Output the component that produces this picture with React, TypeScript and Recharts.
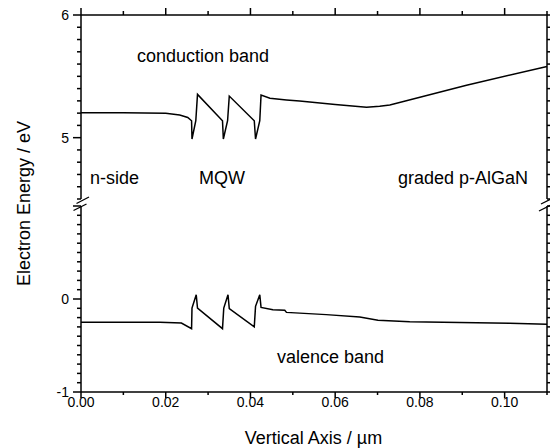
import React from 'react';
import { LineChart, Line, XAxis, YAxis } from 'recharts';

// conduction band (upper panel)
const condPos = [0, 0.01, 0.02, 0.0233, 0.0252, 0.0261, 0.0262, 0.0271, 0.0275, 0.0334, 0.0336, 0.0346, 0.035, 0.0409, 0.0412, 0.0422, 0.0425, 0.0446, 0.0485, 0.0516, 0.06, 0.0674, 0.0705, 0.0729, 0.091, 0.11];
const condEnergy = [5.203, 5.203, 5.199, 5.185, 5.165, 5.138, 4.989, 5.138, 5.353, 5.138, 4.989, 5.138, 5.339, 5.138, 4.989, 5.138, 5.347, 5.322, 5.308, 5.298, 5.271, 5.247, 5.256, 5.266, 5.428, 5.58];

// valence band (lower panel)
const valPos = [0, 0.0186, 0.0237, 0.0261, 0.0262, 0.0272, 0.0275, 0.0334, 0.0337, 0.0347, 0.035, 0.0409, 0.0412, 0.0422, 0.0425, 0.0453, 0.0481, 0.0485, 0.0579, 0.0658, 0.0701, 0.0776, 0.0894, 0.1012, 0.11];
const valEnergy = [-0.251, -0.251, -0.258, -0.319, -0.097, 0.046, -0.097, -0.319, -0.097, 0.046, -0.104, -0.3, -0.079, 0.046, -0.09, -0.115, -0.122, -0.144, -0.168, -0.193, -0.229, -0.244, -0.254, -0.262, -0.272];

const xTicks = [0, 0.01, 0.02, 0.03, 0.04, 0.05, 0.06, 0.07, 0.08, 0.09, 0.1, 0.11];
const upperTicks = [4.5, 4.6, 4.7, 4.8, 4.9, 5, 5.1, 5.2, 5.3, 5.4, 5.5, 5.6, 5.7, 5.8, 5.9, 6];
const lowerTicks = [-1, -0.9, -0.8, -0.7, -0.6, -0.5, -0.4, -0.3, -0.2, -0.1, 0, 0.1, 0.2, 0.3, 0.4, 0.5, 0.6, 0.7, 0.8, 0.9, 1];
const upperLabels = [5, 6];
const lowerLabels = [-1, 0];

const condData = condPos.map((x, i) => ({ x, e: condEnergy[i] }));
const valData = valPos.map((x, i) => ({ x, e: valEnergy[i] }));

const FONT = '"Liberation Sans", Arial, sans-serif';
const INK = '#000';

const isMajorX = (v: number) => Math.round(v * 100) % 2 === 0;

// the axis' own tick line gives the 4px minor mark; majors get 4px more
const LeftTick = (props: any) => {
  const x = Number(props.x);
  const y = Number(props.y);
  const v = props.payload.value;
  const major = Number.isInteger(v);
  return (
    <g>
      {major && <line x1={x} x2={x - 4} y1={y} y2={y} stroke={INK} strokeWidth={1.5} />}
      {props.labels.includes(v) && (
        <text x={x - 8} y={y + 5} textAnchor="end" fontSize={14} fontFamily={FONT} fill={INK} stroke="none">
          {v}
        </text>
      )}
    </g>
  );
};

const EmptyTick = () => <g />;

const TopTick = (props: any) => {
  const x = Number(props.x);
  const y = Number(props.y);
  const len = isMajorX(props.payload.value) ? 7 : 4;
  return <path d={`M${x},${y}V${y - len}`} stroke={INK} strokeWidth={1.5} fill="none" />;
};

const BottomTick = (props: any) => {
  const x = Number(props.x);
  const y = Number(props.y);
  const v = props.payload.value;
  const major = isMajorX(v);
  return (
    <g>
      <path d={`M${x},${y}V${y + (major ? 6 : 3)}`} stroke={INK} strokeWidth={1.5} fill="none" />
      {major && (
        <text x={x} y={y + 15} textAnchor="middle" fontSize={14} fontFamily={FONT} fill={INK} stroke="none">
          {v.toFixed(2)}
        </text>
      )}
    </g>
  );
};

const axisLine = { stroke: INK, strokeWidth: 1.5 };
const yTickLine = { stroke: INK, strokeWidth: 1.5 };

export default function App() {
  return (
    <div style={{ position: 'absolute', left: 0, top: 0, width: 550, height: 448, background: '#fff', overflow: 'hidden' }}>
      <div style={{ position: 'absolute', left: 0, top: 0 }}>
        <LineChart width={550} height={205} data={condData} margin={{ top: 0, right: 0, bottom: 6, left: 0 }}>
          <XAxis xAxisId="t" orientation="top" type="number" dataKey="x" domain={[0, 0.11]} ticks={xTicks} interval={0}
            height={15} tickSize={0} tickMargin={0} axisLine={axisLine} tick={<TopTick />} />
          <YAxis yAxisId="l" type="number" domain={[4.5, 6]} ticks={upperTicks} interval={0} width={81}
            tickSize={4} tickMargin={0} axisLine={axisLine} tickLine={yTickLine} tick={<LeftTick labels={upperLabels} />} />
          <YAxis yAxisId="r" orientation="right" type="number" domain={[4.5, 6]} ticks={upperTicks} interval={0} width={3}
            tickSize={4} tickMargin={0} axisLine={axisLine} tickLine={yTickLine} tick={<EmptyTick />} />
          <Line xAxisId="t" yAxisId="l" type="linear" dataKey="e" stroke={INK} strokeWidth={1.5} dot={false} isAnimationActive={false} />
          <Line xAxisId="t" yAxisId="r" type="linear" dataKey="e" stroke="none" dot={false} legendType="none" isAnimationActive={false} />
        </LineChart>
      </div>
      <div style={{ position: 'absolute', left: 0, top: 200 }}>
        <LineChart width={550} height={248} data={valData} margin={{ top: 6, right: 0, bottom: 6, left: 0 }}>
          <XAxis xAxisId="b" orientation="bottom" type="number" dataKey="x" domain={[0, 0.11]} ticks={xTicks} interval={0}
            height={50} tickSize={0} tickMargin={0} axisLine={axisLine} tick={<BottomTick />} />
          <YAxis yAxisId="l" type="number" domain={[-1, 1]} ticks={lowerTicks} interval={0} width={81}
            tickSize={4} tickMargin={0} axisLine={axisLine} tickLine={yTickLine} tick={<LeftTick labels={lowerLabels} />} />
          <YAxis yAxisId="r" orientation="right" type="number" domain={[-1, 1]} ticks={lowerTicks} interval={0} width={3}
            tickSize={4} tickMargin={0} axisLine={axisLine} tickLine={yTickLine} tick={<EmptyTick />} />
          <Line xAxisId="b" yAxisId="l" type="linear" dataKey="e" stroke={INK} strokeWidth={1.5} dot={false} isAnimationActive={false} />
          <Line xAxisId="b" yAxisId="r" type="linear" dataKey="e" stroke="none" dot={false} legendType="none" isAnimationActive={false} />
        </LineChart>
      </div>
      <svg width={550} height={448} style={{ position: 'absolute', left: 0, top: 0, pointerEvents: 'none' }}>
        <g fontFamily={FONT} fontSize={18} fill={INK}>
          <text x={137} y={61.5}>conduction band</text>
          <text x={90} y={183.5}>n-side</text>
          <text x={199} y={184}>MQW</text>
          <text x={398} y={184}>graded p-AlGaN</text>
          <text x={277} y={362.5}>valence band</text>
          <text x={313.5} y={443.5} textAnchor="middle">Vertical Axis / µm</text>
          <text transform="translate(30,203.5) rotate(-90)" textAnchor="middle">Electron Energy / eV</text>
        </g>
        <g stroke={INK} strokeWidth={1.3}>
          <line x1={76.5} y1={203.5} x2={89} y2={197} />
          <line x1={73.5} y1={210.5} x2={86.5} y2={204} />
          <line x1={539} y1={211} x2={552} y2={204.5} />
          <line x1={541} y1={204} x2={554} y2={197.5} />
        </g>
      </svg>
    </div>
  );
}
